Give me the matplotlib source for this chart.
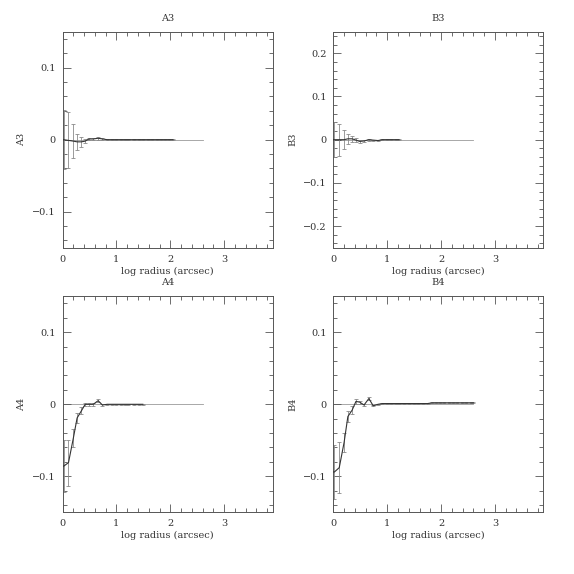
import numpy as np
import matplotlib.pyplot as plt
from matplotlib.ticker import MultipleLocator

# log radius (arcsec) of the isophote fits
log_r = [0.02, 0.11, 0.20, 0.27, 0.35, 0.42, 0.49, 0.57, 0.66, 0.74, 0.83,
         0.91, 1.00, 1.08, 1.16, 1.22, 1.32, 1.41, 1.49, 1.58, 1.66, 1.75,
         1.83, 1.91, 1.98, 2.05, 2.14, 2.22, 2.30, 2.38, 2.47, 2.55, 2.60]

a3 = [0.0, -0.001, -0.002, -0.003, -0.003, -0.002, 0.001, 0.001, 0.002, 0.001,
      0.0, 0.0, 0.0, 0.0, 0.0, 0.0, 0.0, 0.0, 0.0, 0.0, 0.0, 0.0, 0.0, 0.0,
      0.0, 0.0]
a3_err = [0.041, 0.039, 0.024, 0.011, 0.007, 0.003, 0.002, 0.002, 0.002, 0.001,
          0.001, 0.001, 0.0005, 0.0005, 0.0005, 0.0005, 0.0005, 0.0005, 0.0005,
          0.0005, 0.0005, 0.0005, 0.0005, 0.0005, 0.0005, 0.0005]

b3 = [0.0, 0.0, 0.0, 0.002, 0.002, -0.001, -0.004, -0.003, 0.0, -0.001,
      -0.002, 0.0, 0.0, 0.0, 0.0, 0.0]
b3_err = [0.040, 0.037, 0.022, 0.011, 0.007, 0.004, 0.003, 0.002, 0.002,
          0.001, 0.001, 0.001, 0.0005, 0.0005, 0.0005, 0.0005]

a4 = [-0.086, -0.081, -0.047, -0.019, -0.009, 0.0, 0.0, 0.0, 0.005, -0.001,
      0.0, 0.0, 0.0, 0.0, 0.0, 0.0, 0.0, 0.0, 0.0]
a4_err = [0.036, 0.032, 0.012, 0.007, 0.005, 0.002, 0.002, 0.002, 0.002,
          0.001, 0.001, 0.001, 0.0005, 0.0005, 0.0005, 0.0005, 0.0005, 0.0005,
          0.0005]

b4 = [-0.094, -0.088, -0.053, -0.017, -0.008, 0.004, 0.003, -0.001, 0.008,
      -0.002, 0.0, 0.001, 0.001, 0.001, 0.001, 0.001, 0.001, 0.001, 0.001,
      0.001, 0.001, 0.001, 0.002, 0.002, 0.002, 0.002, 0.002, 0.002, 0.002,
      0.002, 0.002, 0.002, 0.002]
b4_err = [0.038, 0.035, 0.013, 0.007, 0.005, 0.003, 0.002, 0.002, 0.002,
          0.001, 0.001, 0.001, 0.0005, 0.0005, 0.0005, 0.0005, 0.0005, 0.0005,
          0.0005, 0.0005, 0.0005, 0.0005, 0.0005, 0.0005, 0.0005, 0.0005,
          0.0005, 0.0005, 0.0005, 0.0005, 0.0005, 0.0005, 0.0005]

panels = [('A3', a3, a3_err, 0.15), ('B3', b3, b3_err, 0.25),
          ('A4', a4, a4_err, 0.15), ('B4', b4, b4_err, 0.15)]

plt.rcParams['font.family'] = 'DejaVu Serif'
plt.rcParams['font.size'] = 7

fig = plt.figure(figsize=(5.74, 5.74), dpi=100)
pos = [[0.109, 0.5685, 0.366, 0.3763], [0.5807, 0.5685, 0.366, 0.3763],
       [0.109, 0.1075, 0.366, 0.3763], [0.5807, 0.1075, 0.366, 0.3763]]

axc = '#555555'
for p, (name, y, err, ylim) in zip(pos, panels):
    ax = fig.add_axes(p)
    n = len(y)
    x = log_r[:n]
    ax.plot([0, log_r[-1]], [0, 0], color='#9a9a9a', lw=0.6, zorder=1)
    ax.errorbar(x, y, yerr=err, fmt='none', ecolor='#8a8a8a', elinewidth=0.6,
                capsize=1.6, capthick=0.6, zorder=2)
    ax.plot([0] + x, [y[0]] + y, color='#333333', lw=0.8, zorder=3)
    ax.set_xlim(0, 3.9)
    ax.set_ylim(-ylim, ylim)
    ax.xaxis.set_major_locator(MultipleLocator(1))
    ax.xaxis.set_minor_locator(MultipleLocator(0.2))
    ax.yaxis.set_major_locator(MultipleLocator(0.1))
    ax.yaxis.set_minor_locator(MultipleLocator(0.02))
    ax.tick_params(which='both', direction='in', top=True, right=True,
                   color=axc, labelcolor='#333333', width=0.6)
    ax.tick_params(which='major', length=5.5, pad=5)
    ax.tick_params(which='minor', length=2.7)
    ax.yaxis.set_major_formatter(plt.FuncFormatter(
        lambda v, _: '0' if abs(v) < 1e-9 else ('%.1f' % v).replace('-', '\u2212')))
    for s in ax.spines.values():
        s.set_color(axc)
        s.set_linewidth(0.7)
    ax.set_title(name, fontsize=7, color='#333333', pad=8)
    ax.set_ylabel(name, color='#333333', labelpad=4)
    ax.set_xlabel('log radius (arcsec)', color='#333333', labelpad=2)

fig.savefig('out.png', dpi=100)
